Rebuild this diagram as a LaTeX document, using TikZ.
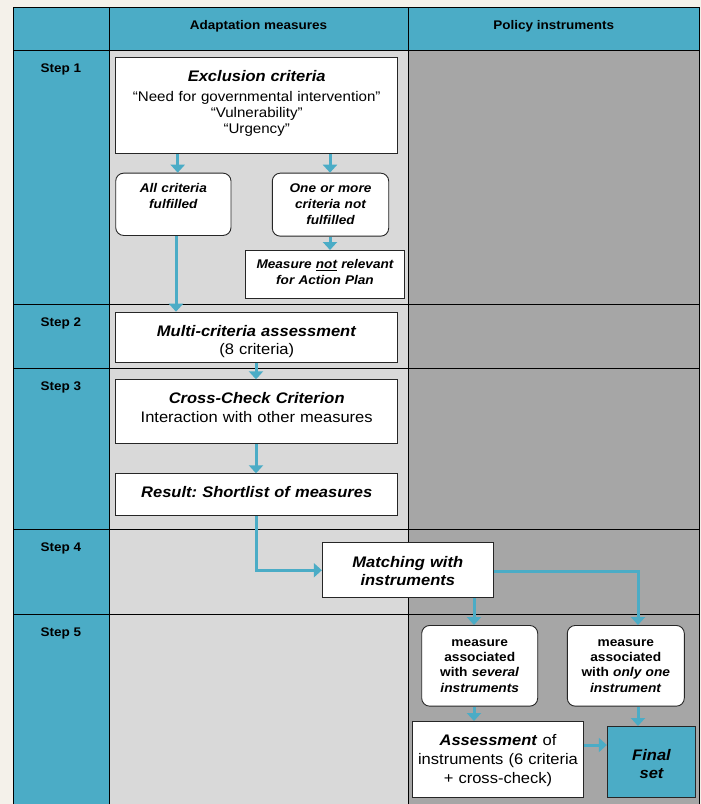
\documentclass[tikz,border=0pt]{standalone}
\usepackage{fontspec}
\setmainfont{Liberation Sans}[FakeStretch=1.08]
\usetikzlibrary{arrows.meta}
\definecolor{teal1}{HTML}{4BACC6}
\definecolor{lgray}{HTML}{D9D9D9}
\definecolor{dgray}{HTML}{A6A6A6}
\definecolor{cream}{HTML}{F4F1EA}
\newcommand\fsz[2]{\fontsize{#1}{#2}\selectfont}
\frenchspacing
\begin{document}
\begin{tikzpicture}[x=1pt,y=-1pt,
  box/.style={draw=black!85,line width=0.9pt,fill=white,inner sep=0pt,align=center,anchor=north},
  rbox/.style={box,rounded corners=8pt},
  arr/.style={draw=teal1,line width=3pt,-{Triangle[width=14pt,length=8pt]}},
  hdr/.style={font=\fsz{12.5}{15}\bfseries,anchor=base,inner sep=0pt},
  grid/.style={line width=0.9pt,black},
]
\useasboundingbox (0,0) rectangle (701,804);
\fill[cream] (0,0) rectangle (701,804);
% table cells
\fill[teal1] (13.3,7.5) rectangle (699.5,50);
\fill[teal1] (13.3,50) rectangle (109,804);
\fill[lgray] (109,50) rectangle (408,804);
\fill[dgray] (408,50) rectangle (699.5,804);
\draw[grid] (13.3,804) -- (13.3,7.5) -- (699.5,7.5) -- (699.5,804);
\draw[grid] (109,7.5) -- (109,804);
\draw[grid] (408,7.5) -- (408,804);
\foreach \yy in {50,304.3,368.3,529.3,614.3}
  \draw[grid] (13.3,\yy) -- (699.5,\yy);
% headers and steps
\node[hdr] (h1) at (258.5,29.5) {Adaptation measures};
\node[hdr] (h2) at (553.7,29.5) {Policy instruments};
\node[hdr] (s1) at (61,72) {Step 1};
\node[hdr] (s2) at (61,326.3) {Step 2};
\node[hdr] (s3) at (61,390.3) {Step 3};
\node[hdr] (s4) at (61,551.3) {Step 4};
\node[hdr] (s5) at (61,636.3) {Step 5};
% step 1
\node[box,text width=282pt,text height=24pt,text depth=72.6pt,font=\fsz{14}{16}] (excl) at (256.7,56.7)
  {{\fsz{15.3}{18}\bfseries\itshape Exclusion criteria}\\[4pt]“Need for governmental intervention”\\“Vulnerability”\\“Urgency”};
\node[rbox,text width=115.3pt,text height=19.6pt,text depth=42.7pt,font=\fsz{12.6}{16}\bfseries\itshape] (allc) at (173.35,172.7)
  {All criteria\\fulfilled};
\node[rbox,text width=116.4pt,text height=19.6pt,text depth=43.4pt,font=\fsz{12.6}{16}\bfseries\itshape] (onem) at (330.5,172.7)
  {One or more\\criteria not\\fulfilled};
\node[box,text width=158.6pt,text height=18.3pt,text depth=30pt,font=\fsz{12.6}{16}\bfseries\itshape] (notrel) at (325,250)
  {Measure \underline{not} relevant\\for Action Plan};
% step 2, 3
\node[box,text width=282pt,text height=24pt,text depth=26pt,font=\fsz{15.3}{18.6}] (multi) at (256.7,311.7)
  {\textbf{\textit{Multi-criteria assessment}}\\(8 criteria)};
\node[box,text width=282pt,text height=24pt,text depth=40pt,font=\fsz{15.3}{18.4}] (cross) at (256.7,379.3)
  {\textbf{\textit{Cross-Check Criterion}}\\Interaction with other measures};
\node[box,text width=282pt,text height=24pt,text depth=17.7pt,font=\fsz{15.3}{18.4}\bfseries\itshape] (result) at (256.7,473.3)
  {Result: Shortlist of measures};
% step 4
\node[box,text width=171pt,text height=24.4pt,text depth=30.6pt,font=\fsz{15.3}{18.3}\bfseries\itshape] (match) at (407.8,542.3)
  {Matching with\\instruments};
% step 5
\node[rbox,text width=116pt,text height=21pt,text depth=59.7pt,font=\fsz{12.7}{15.2}\bfseries] (several) at (479.7,625)
  {measure\\associated\\with \textit{several}\\\textit{instruments}};
\node[rbox,text width=117pt,text height=21pt,text depth=59.7pt,font=\fsz{12.7}{15.2}\bfseries] (onlyone) at (625.8,625)
  {measure\\associated\\with \textit{only one}\\\textit{instrument}};
\node[box,text width=170.6pt,text height=24pt,text depth=52.3pt,font=\fsz{15.3}{19.1}] (assess) at (498,721)
  {\textbf{\textit{Assessment}} of\\instruments (6 criteria\\+ cross-check)};
\node[box,fill=teal1,text width=88.4pt,text height=34pt,text depth=37.3pt,font=\fsz{15.3}{18.3}\bfseries\itshape] (final) at (651.5,726)
  {Final\\set};
% connectors
\draw[arr] (177.7,0 |- excl.south) -- (177.7,0 |- allc.north);
\draw[arr] (330,0 |- excl.south) -- (330,0 |- onem.north);
\draw[arr] (330,0 |- onem.south) -- (330,0 |- notrel.north);
\draw[arr] (176,0 |- allc.south) -- (176,0 |- multi.north);
\draw[arr] (256,0 |- multi.south) -- (256,0 |- cross.north);
\draw[arr] (256,0 |- cross.south) -- (256,0 |- result.north);
\draw[arr] (256,0 |- result.south) |- (match.west);
\draw[arr] (474,0 |- match.south) -- (474,0 |- several.north);
\draw[arr] (match.east |- 0,571) -| (638,0 |- onlyone.north);
\draw[arr] (474,0 |- several.south) -- (474,0 |- assess.north);
\draw[arr] (638,0 |- onlyone.south) -- (638,0 |- final.north);
\draw[arr] (assess.east |- 0,745) -- (final.west |- 0,745);
\end{tikzpicture}
\end{document}
